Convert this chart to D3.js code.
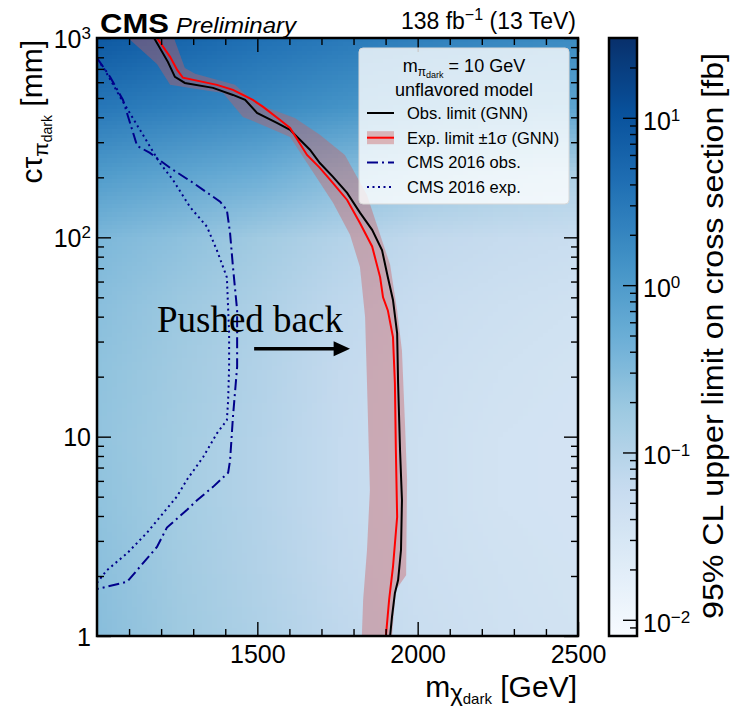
<!DOCTYPE html>
<html>
<head>
<meta charset="utf-8">
<script src="https://cdn.jsdelivr.net/npm/d3@7"></script>
<style>
  body { margin: 0; background: #fff; }
  svg text { font-family: "Liberation Sans", Arial, sans-serif; fill: #000; }
</style>
</head>
<body>
<svg id="chart" width="733" height="707"></svg>
<script>
// 95% CL upper limit [fb]; rows follow ctauGrid, columns follow massGrid
const massGrid = [1000, 1250, 1500, 1750, 2000, 2250, 2500];
const ctauGrid = [1, 2.15, 4.64, 10, 21.5, 46.4, 100, 215, 464, 1000];
const limitGrid = [
  [0.27, 0.17, 0.115, 0.075, 0.052, 0.042, 0.038],
  [0.25, 0.16, 0.105, 0.068, 0.048, 0.040, 0.036],
  [0.23, 0.15, 0.100, 0.064, 0.046, 0.038, 0.034],
  [0.22, 0.15, 0.100, 0.064, 0.046, 0.038, 0.034],
  [0.23, 0.16, 0.105, 0.066, 0.048, 0.040, 0.036],
  [0.26, 0.18, 0.12, 0.075, 0.055, 0.046, 0.040],
  [0.34, 0.24, 0.16, 0.10, 0.07, 0.06, 0.052],
  [1.0, 0.7, 0.5, 0.3, 0.2, 0.15, 0.12],
  [3.2, 2.4, 1.8, 1.3, 0.95, 0.8, 0.7],
  [8, 5.5, 3.8, 2.9, 2.3, 1.9, 1.6]
];

// exclusion curves [m_chi (GeV), ctau (mm)]
const obsGNN = [[1178, 1000], [1221, 759], [1243, 638], [1274, 595], [1362, 562], [1424, 518], [1462, 489],
  [1499, 421], [1561, 375], [1602, 346], [1664, 275], [1695, 236], [1736, 201], [1780, 167], [1820, 133],
  [1858, 109], [1889, 86], [1907, 63], [1923, 48.5], [1936, 33], [1939, 18.6], [1945, 8.6], [1951, 4.8],
  [1948, 2.7], [1939, 1.91], [1929, 1.64], [1920, 1.25], [1914, 1]];
const expGNN = [[1187, 1000], [1228, 804], [1250, 692], [1268, 632], [1374, 582], [1424, 549], [1486, 489],
  [1518, 451], [1571, 388], [1602, 354], [1655, 259], [1695, 223], [1736, 187], [1780, 154], [1820, 118],
  [1858, 90], [1883, 63], [1892, 50], [1907, 43], [1923, 31.6], [1929, 18.6], [1932, 8.6], [1936, 3.95],
  [1923, 2.22], [1911, 1.52], [1901, 1]];
const expBandUp = [[1240, 1000], [1274, 708], [1306, 661], [1430, 582], [1477, 500], [1533, 446], [1617, 397],
  [1695, 327], [1773, 259], [1842, 163], [1883, 103], [1914, 73], [1936, 43], [1951, 27], [1960, 12.1],
  [1967, 6.1], [1964, 2.02], [1932, 1.7], [1920, 1]];
const expBandDown = [[1097, 1000], [1187, 741], [1228, 582], [1290, 562], [1393, 530], [1455, 402], [1530, 358],
  [1602, 319], [1655, 236], [1736, 149], [1789, 103], [1820, 71], [1836, 39.9], [1842, 18.6], [1851, 5.4],
  [1842, 2.7], [1830, 1.52], [1826, 1]];
const obs2016 = [[1000, 794], [1041, 638], [1081, 489], [1125, 288], [1165, 265], [1228, 223], [1299, 188],
  [1384, 151], [1405, 137], [1415, 105], [1424, 71], [1437, 43], [1437, 22.4], [1424, 12.6], [1415, 7.6],
  [1409, 6.6], [1362, 5.6], [1312, 4.8], [1281, 4.3], [1218, 3.5], [1187, 2.8], [1094, 1.87], [1000, 1.72]];
const exp2016 = [[1000, 776], [1019, 716], [1072, 506], [1134, 346], [1196, 236], [1237, 194], [1290, 142],
  [1343, 113], [1374, 86], [1405, 63], [1412, 33], [1412, 22.4], [1409, 15.3], [1405, 12.1], [1374, 10.4],
  [1331, 7.9], [1281, 6.1], [1249, 5.0], [1156, 3.3], [1094, 2.6], [1031, 2.14], [1000, 1.85]];

const xMajor = [1500, 2000, 2500];
const yMajor = [1, 10, 100, 1000];
const zMajor = [0.01, 0.1, 1, 10];

const svg = d3.select('#chart');
const x = d3.scaleLinear().domain([1000, 2500]).range([97, 578]);
const y = d3.scaleLog().domain([1, 1000]).range([636, 38]);
const z = d3.scaleLog().domain([0.008, 30]).range([636, 38]);
const blues = ['#f7fbff', '#deebf7', '#c6dbef', '#9ecae1', '#6baed6', '#4292c6', '#2171b5', '#08519c', '#08306b'];
const blueInterp = d3.piecewise(d3.interpolateRgb, blues);
const color = d3.scaleSequentialLog(blueInterp).domain(z.domain());

const defs = svg.append('defs');
defs.append('clipPath').attr('id', 'plotClip').append('rect')
  .attr('x', 97).attr('y', 38).attr('width', 481).attr('height', 598);

const plot = svg.append('g').attr('clip-path', 'url(#plotClip)');

// heat map: one pixel per grid value, smoothed by the browser when stretched
const canvas = document.createElement('canvas');
canvas.width = massGrid.length;
canvas.height = ctauGrid.length;
const ctx = canvas.getContext('2d');
limitGrid.forEach((row, j) => row.forEach((v, i) => {
  ctx.fillStyle = color(v);
  ctx.fillRect(i, ctauGrid.length - 1 - j, 1, 1);
}));
const halfM = (massGrid[1] - massGrid[0]) / 2;
const halfL = Math.sqrt(ctauGrid[1] / ctauGrid[0]);
const gridTop = ctauGrid[ctauGrid.length - 1] * halfL, gridBottom = ctauGrid[0] / halfL;
plot.append('image')
  .attr('href', canvas.toDataURL())
  .attr('x', x(massGrid[0] - halfM))
  .attr('y', y(gridTop))
  .attr('width', x(massGrid[massGrid.length - 1] + halfM) - x(massGrid[0] - halfM))
  .attr('height', y(gridBottom) - y(gridTop))
  .attr('preserveAspectRatio', 'none');

const line = d3.line().x(d => x(d[0])).y(d => y(d[1]));

plot.append('path')
  .attr('d', line(expBandUp.concat(expBandDown.slice().reverse())) + 'Z')
  .attr('fill', '#cd5c5c').attr('fill-opacity', 0.4).attr('stroke', 'none');

plot.append('path').attr('d', line(obs2016))
  .attr('fill', 'none').attr('stroke', '#00008b').attr('stroke-width', 2)
  .attr('stroke-dasharray', '11,4,2,4');
plot.append('path').attr('d', line(exp2016))
  .attr('fill', 'none').attr('stroke', '#00008b').attr('stroke-width', 2)
  .attr('stroke-dasharray', '2,3.5');
plot.append('path').attr('d', line(obsGNN))
  .attr('fill', 'none').attr('stroke', '#000').attr('stroke-width', 2);
plot.append('path').attr('d', line(expGNN))
  .attr('fill', 'none').attr('stroke', '#ff0000').attr('stroke-width', 2);

// annotation
svg.append('text')
  .attr('x', x(1187)).attr('y', y(33.5))
  .style('font-family', '"Liberation Serif", "Times New Roman", serif')
  .style('font-size', '37px')
  .text('Pushed back');
svg.append('line')
  .attr('x1', x(1490)).attr('y1', y(27.6)).attr('x2', x(1745)).attr('y2', y(27.6))
  .attr('stroke', '#000').attr('stroke-width', 3.5);
svg.append('path')
  .attr('d', `M${x(1789)},${y(27.6)} L${x(1738)},${y(27.6) - 7.5} L${x(1738)},${y(27.6) + 7.5} Z`)
  .attr('fill', '#000');

// ticks
function minorLog(lo, hi) {
  const out = [];
  for (let d = lo; d < hi; d *= 10) for (let k = 2; k <= 9; k++) out.push(d * k);
  return out;
}
function powLabel(el, v, always) {
  const e = Math.round(Math.log10(v));
  const t = d3.select(el).text(null);
  if (!always && e === 0) { t.text('1'); return; }
  if (!always && e === 1) { t.text('10'); return; }
  t.append('tspan').text('10');
  t.append('tspan').attr('dy', '-0.5em').style('font-size', '17px')
    .text(String(e).replace('-', '\u2212'));
}
function styleAxis(g) {
  g.select('.domain').remove();
  g.selectAll('.tick line').attr('stroke', '#000').attr('stroke-width', 1.4);
  g.selectAll('.tick text').style('font-size', '25px').attr('fill', '#000');
}

const minorX = d3.range(1100, 2500, 100).filter(v => v % 500 !== 0);
const minorY = minorLog(1, 1000);
const minorZ = minorLog(0.001, 30).filter(v => v > 0.008 && v < 30);

svg.append('g').attr('transform', 'translate(0,636)')
  .call(d3.axisBottom(x).tickValues(xMajor).tickSize(-14).tickPadding(9).tickFormat(d3.format('d'))).call(styleAxis);
svg.append('g').attr('transform', 'translate(0,636)')
  .call(d3.axisBottom(x).tickValues(minorX).tickSize(-7).tickFormat('')).call(styleAxis);
svg.append('g').attr('transform', 'translate(0,38)')
  .call(d3.axisTop(x).tickValues(xMajor).tickSize(-14).tickFormat('')).call(styleAxis);
svg.append('g').attr('transform', 'translate(0,38)')
  .call(d3.axisTop(x).tickValues(minorX).tickSize(-7).tickFormat('')).call(styleAxis);

svg.append('g').attr('transform', 'translate(97,0)')
  .call(d3.axisLeft(y).tickValues(yMajor).tickSize(-14).tickPadding(6)).call(styleAxis)
  .selectAll('.tick text').attr('dy', '0.36em').each(function (d) { powLabel(this, d, false); });
svg.append('g').attr('transform', 'translate(97,0)')
  .call(d3.axisLeft(y).tickValues(minorY).tickSize(-7).tickFormat('')).call(styleAxis);
svg.append('g').attr('transform', 'translate(578,0)')
  .call(d3.axisRight(y).tickValues(yMajor).tickSize(-14).tickFormat('')).call(styleAxis);
svg.append('g').attr('transform', 'translate(578,0)')
  .call(d3.axisRight(y).tickValues(minorY).tickSize(-7).tickFormat('')).call(styleAxis);

svg.append('rect').attr('x', 97).attr('y', 38).attr('width', 481).attr('height', 598)
  .attr('fill', 'none').attr('stroke', '#000').attr('stroke-width', 2.5);

// colour bar
const grad = defs.append('linearGradient').attr('id', 'zGrad')
  .attr('x1', 0).attr('y1', 1).attr('x2', 0).attr('y2', 0);
d3.range(0, 1.0001, 0.02).forEach(t => {
  grad.append('stop').attr('offset', t).attr('stop-color', blueInterp(t));
});
svg.append('rect').attr('x', 609).attr('y', 38).attr('width', 28).attr('height', 598)
  .attr('fill', 'url(#zGrad)');
svg.append('g').attr('transform', 'translate(637,0)')
  .call(d3.axisRight(z).tickValues(zMajor).tickSize(-14).tickPadding(6)).call(styleAxis)
  .selectAll('.tick text').attr('dy', '0.45em').each(function (d) { powLabel(this, d, true); });
svg.append('g').attr('transform', 'translate(637,0)')
  .call(d3.axisRight(z).tickValues(minorZ).tickSize(-7).tickFormat('')).call(styleAxis);
svg.append('rect').attr('x', 609).attr('y', 38).attr('width', 28).attr('height', 598)
  .attr('fill', 'none').attr('stroke', '#000').attr('stroke-width', 2.5);

svg.append('text')
  .attr('transform', 'translate(723,336) rotate(-90)')
  .attr('text-anchor', 'middle')
  .style('font-size', '29px')
  .attr('textLength', 566).attr('lengthAdjust', 'spacingAndGlyphs')
  .text('95% CL upper limit on cross section [fb]');

// axis titles
const xt = svg.append('text').attr('x', 577).attr('y', 697).attr('text-anchor', 'end').style('font-size', '30px');
xt.append('tspan').text('m');
xt.append('tspan').attr('dy', 4).style('font-size', '24px').text('\u03c7');
xt.append('tspan').attr('dy', 3).style('font-size', '15px').text('dark');
xt.append('tspan').attr('dy', -7).text(' [GeV]');

const yt = svg.append('text').attr('transform', 'translate(42,40) rotate(-90)')
  .attr('text-anchor', 'end').style('font-size', '30px');
yt.append('tspan').text('c\u03c4');
yt.append('tspan').attr('dy', 6).style('font-size', '21px').text('\u03c0');
yt.append('tspan').attr('dy', 4).style('font-size', '14px').text('dark');
yt.append('tspan').attr('dy', -10).text(' [mm]');

// header
svg.append('text').attr('x', 100).attr('y', 33)
  .style('font-size', '28px').style('font-weight', 'bold')
  .attr('textLength', 69).attr('lengthAdjust', 'spacingAndGlyphs').text('CMS');
svg.append('text').attr('x', 176).attr('y', 33)
  .style('font-size', '22px').style('font-style', 'italic')
  .attr('textLength', 120).attr('lengthAdjust', 'spacingAndGlyphs').text('Preliminary');
const lumi = svg.append('text').attr('x', 576).attr('y', 29).attr('text-anchor', 'end').style('font-size', '23px');
lumi.append('tspan').text('138 fb');
lumi.append('tspan').attr('dy', -9).style('font-size', '16px').text('\u22121');
lumi.append('tspan').attr('dy', 9).text(' (13 TeV)');

// legend
const lg = svg.append('g');
lg.append('rect').attr('x', 359).attr('y', 48).attr('width', 210).attr('height', 156).attr('rx', 4)
  .attr('fill', '#fff').attr('fill-opacity', 0.8).attr('stroke', '#d8d8d8').attr('stroke-width', 1);
const lt1 = lg.append('text').attr('x', 464).attr('y', 72).attr('text-anchor', 'middle').style('font-size', '18px');
lt1.append('tspan').text('m');
lt1.append('tspan').attr('dy', 4).style('font-size', '12px').text('\u03c0');
lt1.append('tspan').attr('dy', 2).style('font-size', '9px').text('dark');
lt1.append('tspan').attr('dy', -6).text(' = 10 GeV');
lg.append('text').attr('x', 464).attr('y', 96).attr('text-anchor', 'middle').style('font-size', '18px')
  .text('unflavored model');

const entries = [
  { label: 'Obs. limit (GNN)', stroke: '#000', dash: null, band: false },
  { label: 'Exp. limit \u00b11\u03c3 (GNN)', stroke: '#ff0000', dash: null, band: true },
  { label: 'CMS 2016 obs.', stroke: '#00008b', dash: '11,4,2,4', band: false },
  { label: 'CMS 2016 exp.', stroke: '#00008b', dash: '2,3.5', band: false }
];
entries.forEach((e, i) => {
  const cy = 113 + i * 24.7;
  if (e.band) {
    lg.append('rect').attr('x', 367).attr('y', cy - 6.5).attr('width', 27).attr('height', 13)
      .attr('fill', '#cd5c5c').attr('fill-opacity', 0.4);
  }
  lg.append('line').attr('x1', 367).attr('x2', 394).attr('y1', cy).attr('y2', cy)
    .attr('stroke', e.stroke).attr('stroke-width', 2).attr('stroke-dasharray', e.dash);
  lg.append('text').attr('x', 407).attr('y', cy + 6).style('font-size', '16.5px').text(e.label);
});
</script>
</body>
</html>
